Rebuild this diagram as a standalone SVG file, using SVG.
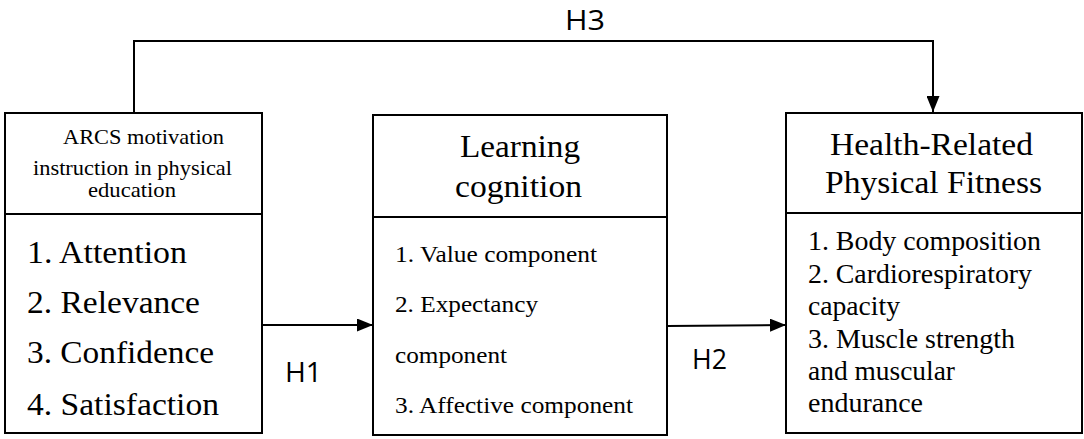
<svg xmlns="http://www.w3.org/2000/svg" width="1084" height="439" viewBox="0 0 1084 439">
<defs>
<marker id="arr" viewBox="0 0 16 13" refX="16" refY="6.5" markerWidth="16" markerHeight="13" markerUnits="userSpaceOnUse" orient="auto">
<path d="M0,0 L16,6.5 L0,13 Z" fill="#000"/>
</marker>
<style>
.box{fill:#fff;stroke:#000;stroke-width:2}
.conn{fill:none;stroke:#000;stroke-width:2}
.t{font-family:"Liberation Serif","Times New Roman",serif;fill:#000}
.h{font-family:"Open Sans","Liberation Sans",sans-serif;fill:#000;font-size:27px}
</style>
</defs>
<rect width="1084" height="439" fill="#fff"/>
<g id="connectors">
<polyline class="conn" points="134,113 134,41 933,41 933,112" marker-end="url(#arr)"/>
<line class="conn" x1="262" y1="325" x2="373" y2="325" marker-end="url(#arr)"/>
<line class="conn" x1="667" y1="326" x2="786" y2="325" marker-end="url(#arr)"/>
<text class="h" x="565" y="30" textLength="40" lengthAdjust="spacingAndGlyphs">H3</text>
<text class="h" x="285" y="382" textLength="37" lengthAdjust="spacingAndGlyphs">H1</text>
<text class="h" x="692" y="369" textLength="35" lengthAdjust="spacingAndGlyphs">H2</text>
</g>
<g id="node-arcs">
<rect class="box" x="5" y="113" width="257" height="320"/>
<line class="conn" x1="5" y1="214" x2="262" y2="214"/>
<text class="t" font-size="21" x="63" y="144" textLength="161" lengthAdjust="spacingAndGlyphs">ARCS motivation</text>
<text class="t" font-size="21" x="33" y="175" textLength="199" lengthAdjust="spacingAndGlyphs">instruction in physical</text>
<text class="t" font-size="21" x="88" y="197" textLength="88" lengthAdjust="spacingAndGlyphs">education</text>
<text class="t" font-size="31" x="27" y="263" textLength="160" lengthAdjust="spacingAndGlyphs">1. Attention</text>
<text class="t" font-size="31" x="27" y="313" textLength="173" lengthAdjust="spacingAndGlyphs">2. Relevance</text>
<text class="t" font-size="31" x="27" y="363" textLength="187" lengthAdjust="spacingAndGlyphs">3. Confidence</text>
<text class="t" font-size="31" x="27" y="415" textLength="192" lengthAdjust="spacingAndGlyphs">4. Satisfaction</text>
</g>
<g id="node-learning">
<rect class="box" x="373" y="115" width="294" height="320"/>
<line class="conn" x1="373" y1="217" x2="667" y2="217"/>
<text class="t" font-size="32" x="460" y="157" textLength="120" lengthAdjust="spacingAndGlyphs">Learning</text>
<text class="t" font-size="32" x="455" y="197" textLength="127" lengthAdjust="spacingAndGlyphs">cognition</text>
<text class="t" font-size="24" x="395" y="262" textLength="202" lengthAdjust="spacingAndGlyphs">1. Value component</text>
<text class="t" font-size="24" x="395" y="312" textLength="143" lengthAdjust="spacingAndGlyphs">2. Expectancy</text>
<text class="t" font-size="24" x="395" y="363" textLength="112" lengthAdjust="spacingAndGlyphs">component</text>
<text class="t" font-size="24" x="395" y="413" textLength="238" lengthAdjust="spacingAndGlyphs">3. Affective component</text>
</g>
<g id="node-fitness">
<rect class="box" x="786" y="113" width="296" height="320"/>
<line class="conn" x1="786" y1="213" x2="1082" y2="213"/>
<text class="t" font-size="32" x="830" y="155" textLength="203" lengthAdjust="spacingAndGlyphs">Health-Related</text>
<text class="t" font-size="32" x="825" y="193" textLength="217" lengthAdjust="spacingAndGlyphs">Physical Fitness</text>
<text class="t" font-size="27" x="808" y="250" textLength="233" lengthAdjust="spacingAndGlyphs">1. Body composition</text>
<text class="t" font-size="27" x="808" y="283" textLength="224" lengthAdjust="spacingAndGlyphs">2. Cardiorespiratory</text>
<text class="t" font-size="27" x="808" y="315" textLength="92" lengthAdjust="spacingAndGlyphs">capacity</text>
<text class="t" font-size="27" x="808" y="348" textLength="207" lengthAdjust="spacingAndGlyphs">3. Muscle strength</text>
<text class="t" font-size="27" x="808" y="380" textLength="147" lengthAdjust="spacingAndGlyphs">and muscular</text>
<text class="t" font-size="27" x="808" y="412" textLength="115" lengthAdjust="spacingAndGlyphs">endurance</text>
</g>
</svg>
